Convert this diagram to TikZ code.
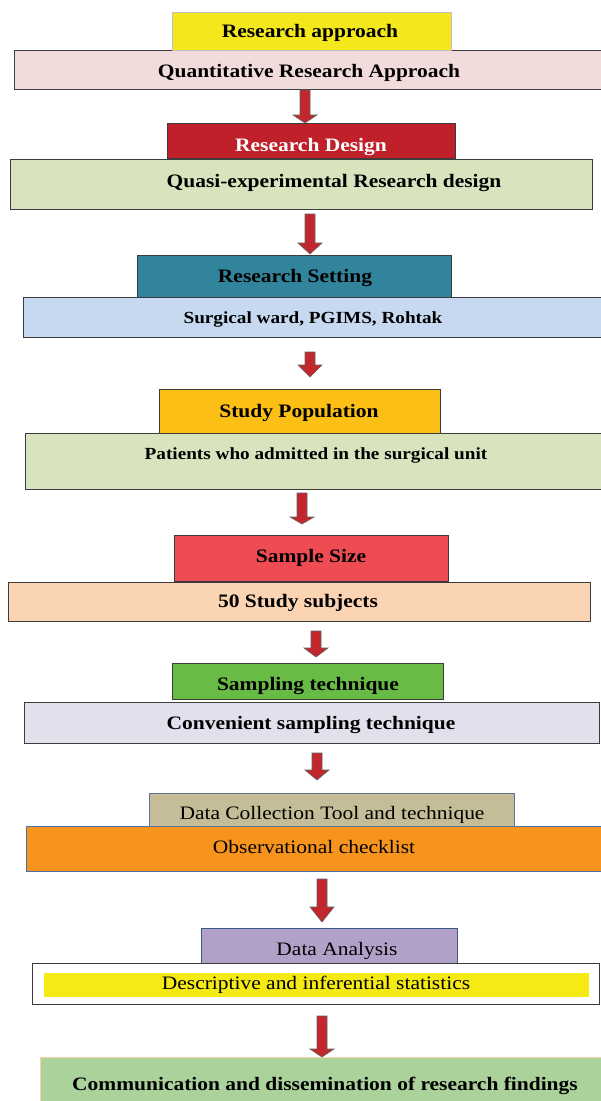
\documentclass[tikz,border=0pt]{standalone}
\usepackage{graphicx}
\usepackage{fontspec}
\setmainfont{Liberation Serif}
\usetikzlibrary{calc}
\definecolor{yel}{HTML}{F4E81C}
\definecolor{pinkb}{HTML}{F2DCDB}
\definecolor{dred}{HTML}{C0202A}
\definecolor{lgreen}{HTML}{D7E4BD}
\definecolor{teal}{HTML}{31849B}
\definecolor{lblue}{HTML}{C6D9F1}
\definecolor{gold}{HTML}{FBBF15}
\definecolor{ssred}{HTML}{EE4B53}
\definecolor{peach}{HTML}{FBD4B4}
\definecolor{sgreen}{HTML}{68BC45}
\definecolor{lav}{HTML}{E4DFEC}
\definecolor{tanb}{HTML}{C4BD97}
\definecolor{orng}{HTML}{F7941E}
\definecolor{purp}{HTML}{B1A0C7}
\definecolor{yel2}{HTML}{F5EA14}
\definecolor{fgreen}{HTML}{AAD29A}
\definecolor{arrred}{HTML}{C1272D}
\definecolor{boxline}{HTML}{3C3C3C}
\definecolor{blueline}{HTML}{4A6FA5}
\newcommand\sx[1]{\scalebox{1.13}[1]{#1}}
\newcommand\blockarr[3]{%
  \filldraw[arr] let \p1=(#1), \p2=(#2) in
  (\x1-5pt,\y1) -- (\x1+5pt,\y1) -- (\x1+5pt,\y2+#3pt) -- (\x1+12pt,\y2+#3pt)
  -- (\x1,\y2) -- (\x1-12pt,\y2+#3pt) -- (\x1-5pt,\y2+#3pt) -- cycle;}
\begin{document}
\begin{tikzpicture}[x=1pt,y=-1pt,
  box/.style={draw=boxline, line width=1.2pt, inner sep=0pt, anchor=north west},
  btxt/.style={font=\fontsize{19}{19}\selectfont\bfseries, inner sep=0pt, anchor=base},
  stxt/.style={font=\fontsize{17}{17}\selectfont\bfseries, inner sep=0pt, anchor=base},
  rtxt/.style={font=\fontsize{19}{19}\selectfont, inner sep=0pt, anchor=base},
  arr/.style={fill=arrred, draw=boxline!80, line width=0.6pt, line join=miter}]
\clip (0,0) rectangle (601,1101);
\fill[white] (0,0) rectangle (601,1101);
% boxes
\node[box, fill=pinkb, minimum width=596, minimum height=39] (a2) at (14,50) {};
\node[box, fill=yel, draw=gray!50, line width=0.8pt, minimum width=279, minimum height=38] (a1) at (172,12) {};
\node[box, fill=lgreen, minimum width=582, minimum height=50] (b2) at (10,159) {};
\node[box, fill=dred, minimum width=288, minimum height=35] (b1) at (167,123) {};
\node[box, fill=lblue, minimum width=587, minimum height=40] (c2) at (23,297) {};
\node[box, fill=teal, minimum width=314, minimum height=42] (c1) at (137,255) {};
\node[box, fill=lgreen, minimum width=585, minimum height=56] (d2) at (25,433) {};
\node[box, fill=gold, minimum width=281, minimum height=44] (d1) at (159,389) {};
\node[box, fill=peach, minimum width=582, minimum height=39] (e2) at (8,582) {};
\node[box, fill=ssred, minimum width=274, minimum height=46] (e1) at (174,535) {};
\node[box, fill=lav, minimum width=575, minimum height=41] (f2) at (24,702) {};
\node[box, fill=sgreen, minimum width=271, minimum height=36] (f1) at (172,663) {};
\node[box, fill=orng, draw=blueline, line width=0.9pt, minimum width=584, minimum height=45] (g2) at (26,826) {};
\node[box, fill=tanb, draw=blueline!70!gray, line width=0.9pt, minimum width=365, minimum height=33] (g1) at (149,793) {};
\node[box, fill=purp, draw=blueline!80!black, line width=0.9pt, minimum width=256, minimum height=35] (h1) at (201,928) {};
\node[box, fill=white, line width=1.4pt, minimum width=567, minimum height=41] (h2) at (32,963) {};
\node[box, fill=yel2, draw=none, minimum width=545, minimum height=24] (h2in) at (43,972) {};
\node[box, fill=fgreen, draw=orange!35, line width=0.9pt, minimum width=570, minimum height=55] (i1) at (40,1057) {};
% texts
\node[btxt] (ta1) at (310,37) {\sx{Research approach}};
\node[btxt] (ta2) at (309,77) {\sx{Quantitative Research Approach}};
\node[btxt, text=white] (tb1) at (311,151) {\sx{Research Design}};
\node[btxt] (tb2) at (334,187) {\sx{Quasi-experimental Research design}};
\node[btxt] (tc1) at (295,282) {\sx{Research Setting}};
\node[stxt] (tc2) at (313,323) {\sx{Surgical ward, PGIMS, Rohtak}};
\node[btxt] (td1) at (299,417) {\sx{Study Population}};
\node[stxt] (td2) at (316,459) {\sx{Patients who admitted in the surgical unit}};
\node[btxt] (te1) at (311,562) {\sx{Sample Size}};
\node[btxt] (te2) at (298,607) {\sx{50 Study subjects}};
\node[btxt] (tf1) at (308,690) {\sx{Sampling technique}};
\node[btxt] (tf2) at (311,729) {\sx{Convenient sampling technique}};
\node[rtxt] (tg1) at (332,819) {\sx{Data Collection Tool and technique}};
\node[rtxt] (tg2) at (314,853) {\sx{Observational checklist}};
\node[rtxt] (th1) at (337,955) {\sx{Data Analysis}};
\node[rtxt] (th2) at (316,989) {\sx{Descriptive and inferential statistics}};
\node[btxt] (ti1) at (325,1090) {\sx{Communication and dissemination of research findings}};
% arrow end points
\coordinate (s1) at (305,90);   \coordinate (e1) at (305,123);
\coordinate (s2) at (310,214);  \coordinate (e2) at (310,254);
\coordinate (s3) at (310,352);  \coordinate (e3) at (310,377);
\coordinate (s4) at (302,493);  \coordinate (e4) at (302,524);
\coordinate (s5) at (316,631);  \coordinate (e5) at (316,657);
\coordinate (s6) at (317,753);  \coordinate (e6) at (317,780);
\coordinate (s7) at (322,879);  \coordinate (e7) at (322,922);
\coordinate (s8) at (322,1016); \coordinate (e8) at (322,1057);
\blockarr{s1}{e1}{8}
\blockarr{s2}{e2}{11}
\blockarr{s3}{e3}{12}
\blockarr{s4}{e4}{7}
\blockarr{s5}{e5}{9}
\blockarr{s6}{e6}{10}
\blockarr{s7}{e7}{15}
\blockarr{s8}{e8}{8}
\end{tikzpicture}
\end{document}
